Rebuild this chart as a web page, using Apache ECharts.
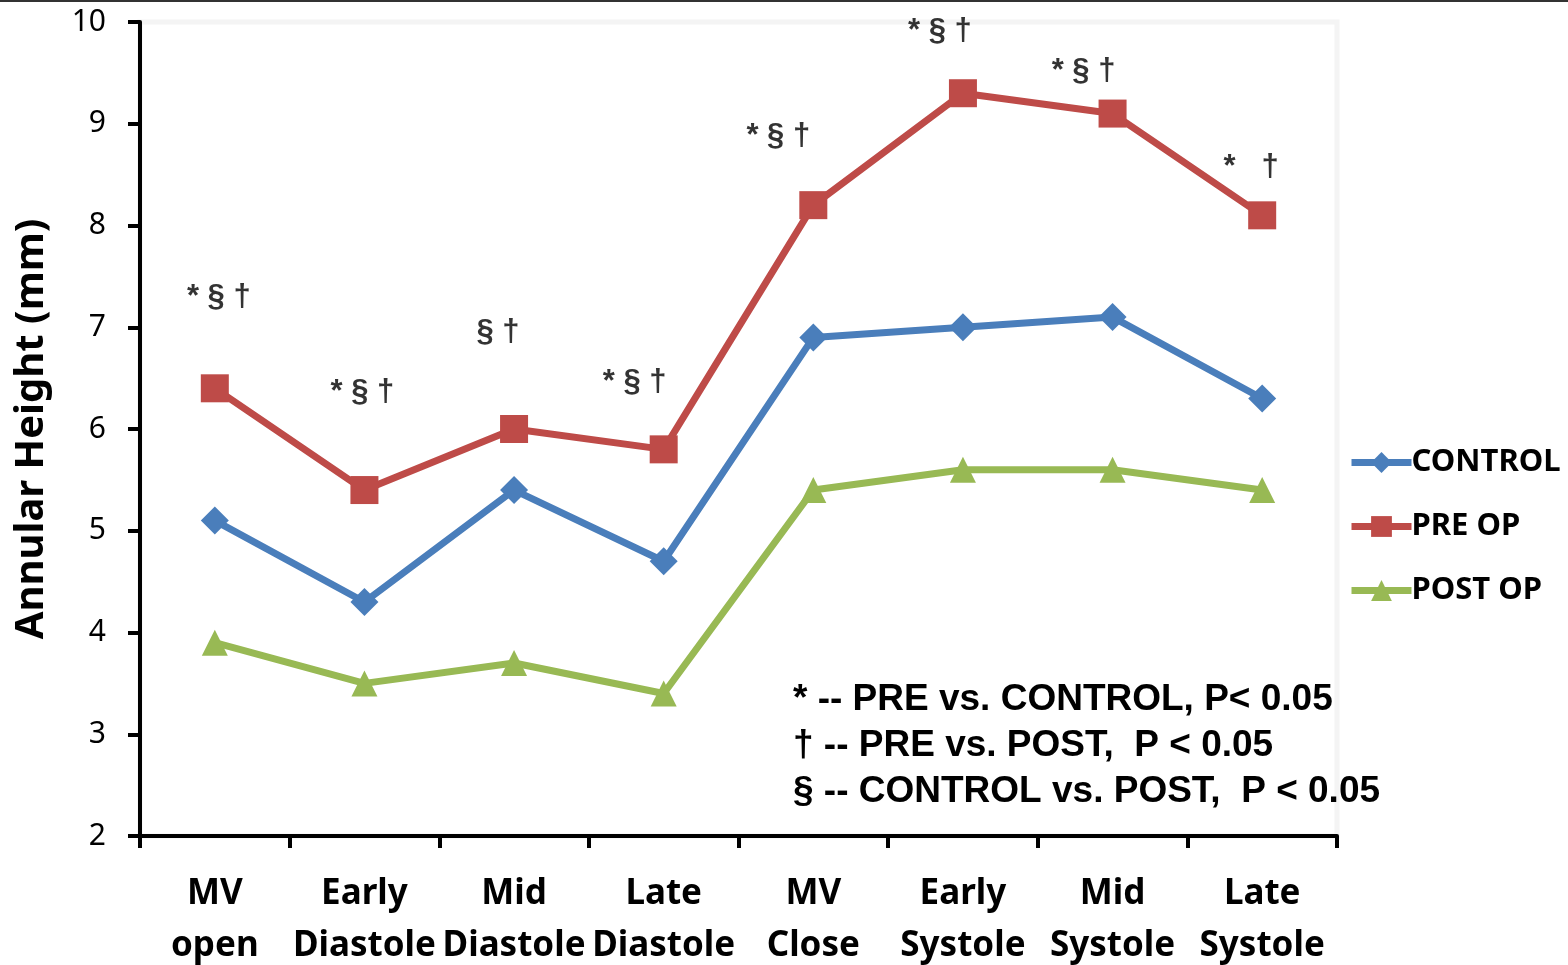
<!DOCTYPE html>
<html>
<head>
<meta charset="utf-8">
<title>Annular Height</title>
<script src="https://cdn.jsdelivr.net/npm/echarts@6/dist/echarts.min.js"></script>
<style>
  html, body { margin: 0; padding: 0; background: #fff; }
  #chart { width: 1568px; height: 965px; }
</style>
</head>
<body>
<div id="chart"></div>
<script>
// categories (cardiac phases)
const phases = ['MV\nopen', 'Early\nDiastole', 'Mid\nDiastole', 'Late\nDiastole',
  'MV\nClose', 'Early\nSystole', 'Mid\nSystole', 'Late\nSystole']

// series values, mm
const control = [5.1, 4.3, 5.4, 4.7, 6.9, 7.0, 7.1, 6.3]
const preOp = [6.4, 5.4, 6.0, 5.8, 8.2, 9.3, 9.1, 8.1]
const postOp = [3.9, 3.5, 3.7, 3.4, 5.4, 5.6, 5.6, 5.4]

// significance marks above each phase and the height they sit at
const sigMarks = ['* § †', '* § †', '§ †', '* § †', '* § †', '* § †', '* § †', '*   †']
const sigLevel = [7.29, 6.36, 6.95, 6.46, 8.88, 9.91, 9.51, 8.57]

const footnotes = [
  '* -- PRE vs. CONTROL, P< 0.05',
  '† -- PRE vs. POST,  P < 0.05',
  '§ -- CONTROL vs. POST,  P < 0.05'
]

// small sideways shift of each mark, px
const sigShift = [4, -2, -16, -29, -35, -23, -29, -11]

const chart = echarts.init(document.getElementById('chart'))

const lineFont = 'Noto Sans, Open Sans, sans-serif'

function lineSeries(name, values, color, symbol, size) {
  return {
    name: name,
    type: 'line',
    data: values,
    symbol: symbol,
    symbolSize: size,
    lineStyle: { width: 7, color: color },
    itemStyle: { color: color },
    z: 3
  }
}

const option = {
  animation: false,
  backgroundColor: '#fff',
  grid: {
    left: 140,
    right: 231,
    top: 22,
    bottom: 129,
    outerBoundsMode: 'none',
    show: true,
    borderColor: '#f4f4f4',
    borderWidth: 5
  },
  legend: {
    orient: 'vertical',
    left: 1348,
    top: 447,
    itemWidth: 60,
    itemHeight: 26,
    itemGap: 33,
    padding: 0,
    data: ['CONTROL', 'PRE OP', 'POST OP'],
    lineStyle: { width: 7 },
    textStyle: {
      fontFamily: lineFont,
      fontWeight: 'bold',
      fontSize: 31,
      color: '#000',
      padding: [0, 0, 0, -5]
    }
  },
  xAxis: {
    type: 'category',
    data: phases,
    boundaryGap: true,
    axisLine: { lineStyle: { color: '#000', width: 4 } },
    axisTick: { show: true, length: 12, lineStyle: { color: '#000', width: 4 } },
    axisLabel: {
      interval: 0,
      margin: 32,
      fontFamily: lineFont,
      fontWeight: 'bold',
      fontSize: 35,
      lineHeight: 52,
      color: '#000'
    },
    splitLine: { show: false }
  },
  yAxis: {
    type: 'value',
    min: 2,
    max: 10,
    interval: 1,
    name: 'Annular Height (mm)',
    nameLocation: 'middle',
    nameGap: 88,
    nameTextStyle: {
      fontFamily: lineFont,
      fontWeight: 'bold',
      fontSize: 40,
      color: '#000'
    },
    axisLine: { show: true, lineStyle: { color: '#000', width: 4 } },
    axisTick: { show: true, length: 12, lineStyle: { color: '#000', width: 4 } },
    axisLabel: {
      margin: 34,
      fontFamily: lineFont,
      fontSize: 30,
      color: '#000'
    },
    splitLine: { show: false }
  },
  series: [
    lineSeries('CONTROL', control, '#4a7ebb', 'diamond', 28),
    lineSeries('PRE OP', preOp, '#be4b48', 'rect', 28),
    lineSeries('POST OP', postOp, '#98b954', 'triangle', 26),
    {
      name: 'marks',
      type: 'scatter',
      symbolSize: 0,
      silent: true,
      data: sigLevel.map((v, i) => ({
        value: [i, v],
        label: {
          show: true,
          formatter: sigMarks[i],
          position: 'inside',
          offset: [sigShift[i], 0],
          fontFamily: 'Liberation Sans, Arial, sans-serif',
          fontWeight: 'bold',
          fontSize: 31,
          color: '#000'
        }
      }))
    }
  ],
  graphic: [
    {
      type: 'line',
      shape: { x1: 0, y1: 1, x2: 1568, y2: 1 },
      style: { stroke: '#333', lineWidth: 2 }
    },
    {
      type: 'text',
      left: 793,
      top: 677,
      style: {
        text: footnotes.join('\n'),
        fontFamily: 'Liberation Sans, Arial, sans-serif',
        fontWeight: 'bold',
        fontSize: 37,
        lineHeight: 46,
        fill: '#000'
      }
    }
  ]
}

chart.setOption(option)
</script>
</body>
</html>
